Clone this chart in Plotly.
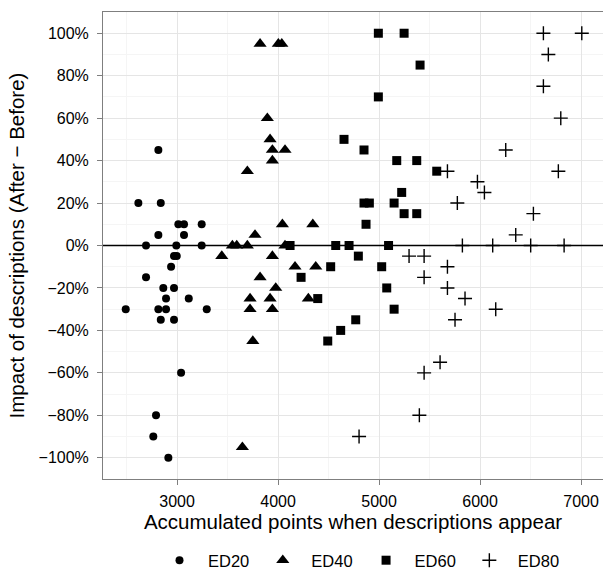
import plotly.graph_objects as go

# Accumulated points (x) and impact in percent (y) for each ED group
ed20_x = [2815, 2617, 2839, 3013, 3069, 3244, 2815, 3069, 2693, 2993, 3244, 2970, 2997, 2941,
          2693, 2864, 2970, 2891, 3116, 2492, 2815, 2891, 3294, 2839, 2970, 3040, 2792, 2765, 2914]
ed20_y = [45, 20, 20, 10, 10, 10, 5, 5, 0, 0, 0, -5, -5, -10,
          -15, -20, -20, -25, -25, -30, -30, -30, -30, -35, -35, -60, -80, -90, -100]

ed40_x = [3822, 4003, 4037, 3894, 3921, 3944, 4069, 3944, 3696, 4043, 4344, 3772, 3548, 3591, 3696,
          4069, 3443, 3944, 4168, 4373, 3822, 3977, 3723, 3921, 4300, 3723, 3944, 3750, 3647]
ed40_y = [95, 95, 95, 60, 50, 45, 45, 40, 35, 10, 10, 5, 0, 0, 0,
          0, -5, -5, -10, -10, -15, -20, -25, -25, -25, -30, -30, -45, -95]

ed60_x = [4993, 5248, 5406, 4993, 4653, 4851, 5175, 5373, 5571, 5224, 4851, 4904, 5149, 5248, 5373,
          4871, 4119, 4571, 4703, 5094, 4795, 4521, 5026, 4228, 5076, 4393, 5149, 4769, 4620, 4492]
ed60_y = [100, 100, 85, 70, 50, 45, 40, 40, 35, 25, 20, 20, 20, 15, 15,
          10, 0, 0, 0, 0, -5, -10, -10, -15, -20, -25, -30, -35, -40, -45]

ed80_x = [6627, 7007, 6676, 6627, 6799, 6254, 5677, 6775, 5974, 6043, 5775, 6528, 6353, 5825, 6125,
          6501, 6832, 5297, 5446, 5677, 5446, 5677, 5851, 6155, 5752, 5604, 5446, 5399, 4802]
ed80_y = [100, 100, 90, 75, 60, 45, 35, 35, 30, 25, 20, 15, 5, 0, 0,
          0, 0, -5, -5, -10, -15, -20, -25, -30, -35, -55, -60, -80, -90]

x_ticks = [3000, 4000, 5000, 6000, 7000]
y_ticks = [-100, -80, -60, -40, -20, 0, 20, 40, 60, 80, 100]
y_ticktext = [("\u2212" if v < 0 else "") + f"{abs(v)}%" for v in y_ticks]

FONT = "Liberation Sans, Arial, Helvetica, sans-serif"

groups = [
    ("ED20", ed20_x, ed20_y, dict(symbol="circle", size=8)),
    ("ED40", ed40_x, ed40_y, dict(symbol="triangle-up", size=11.5)),
    ("ED60", ed60_x, ed60_y, dict(symbol="square", size=9)),
    ("ED80", ed80_x, ed80_y, dict(symbol="cross-thin-open", size=10,
                                  line=dict(width=1.4, color="black"))),
]

fig = go.Figure()
for name, xs, ys, mk in groups:
    marker = dict(color="black", line=dict(width=0))
    marker.update(mk)
    fig.add_trace(go.Scatter(x=xs, y=ys, mode="markers", name=name, marker=marker))

# reference line at zero impact
fig.add_shape(type="line", xref="paper", x0=0, x1=1, yref="y", y0=0, y1=0,
              line=dict(color="black", width=1.5), layer="above")

axis_common = dict(
    showline=True, linecolor="#7f7f7f", linewidth=1, mirror=True,
    ticks="outside", ticklen=5, tickcolor="#7f7f7f", tickwidth=1,
    showgrid=True, gridcolor="#e5e5e5", gridwidth=1,
    zeroline=False,
    tickfont=dict(family=FONT, size=16, color="black"),
    title_font=dict(family=FONT, size=20.5, color="black"),
)

fig.update_xaxes(
    range=[2267, 7217], tickmode="array", tickvals=x_ticks,
    ticklabelstandoff=3,
    minor=dict(dtick=500, tick0=2500, showgrid=True, gridcolor="#f5f5f5", ticks=""),
    title_text="Accumulated points when descriptions appear", title_standoff=1,
    **axis_common,
)
fig.update_yaxes(
    range=[-110, 110], tickmode="array", tickvals=y_ticks, ticktext=y_ticktext,
    ticklabelstandoff=5,
    minor=dict(dtick=10, tick0=0, showgrid=True, gridcolor="#f5f5f5", ticks=""),
    title_text="Impact of descriptions (After \u2212 Before)", title_standoff=8,
    **axis_common,
)

fig.update_layout(
    width=603, height=580,
    margin=dict(l=103, r=0, t=12, b=101),
    plot_bgcolor="white", paper_bgcolor="white",
    font=dict(family=FONT, color="black"),
    legend=dict(orientation="h", x=0.51, xanchor="center", y=-0.137, yanchor="top",
                font=dict(family=FONT, size=16.5, color="black"),
                itemwidth=47, bgcolor="rgba(0,0,0,0)"),
    showlegend=True,
)

fig.write_html("out.html")
